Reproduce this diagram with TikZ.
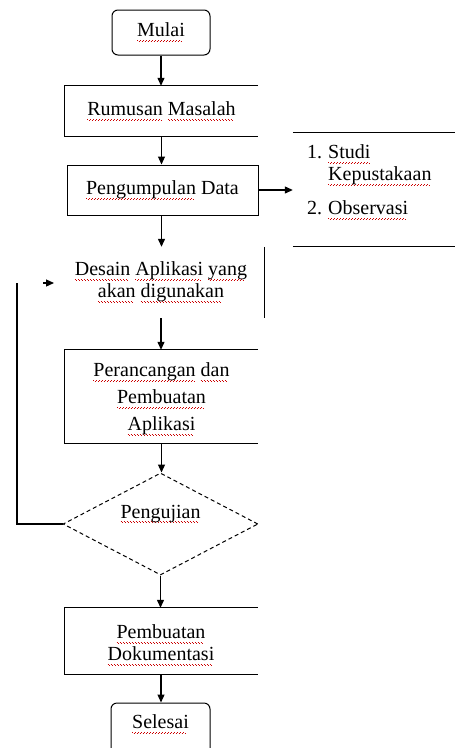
\documentclass[tikz,border=0pt]{standalone}
\usepackage{fontspec}
\setmainfont{Liberation Serif}
\usetikzlibrary{arrows.meta,shapes.geometric}
% red dotted wavy spell-check underline
\newsavebox\spellbox
\newcommand\spell[1]{\sbox\spellbox{#1}%
  \rlap{\color{red!80!black}\leaders\hbox to 3pt{\lower4pt\hbox{\vrule width 1pt height 0.8pt}%
    \hskip0.5pt\lower5.2pt\hbox{\vrule width 1pt height 0.8pt}\hss}\hskip\wd\spellbox}%
  \usebox\spellbox}
% shift a line of text vertically without changing its size
\newcommand\shiftline[2]{\raisebox{#1}[\height][\depth]{#2}}
\begin{document}
\begin{tikzpicture}[x=1pt,y=-1pt,
  txt/.style={font=\fontsize{20}{22}\selectfont, align=center, inner sep=0pt},
  plain/.style={txt, minimum width=193pt},
  rounded/.style={txt, draw, line width=1pt, rounded corners=6pt},
  decision/.style={txt, draw, diamond, dashed, dash pattern=on 4pt off 3pt, line width=1pt,
                   minimum width=195pt, minimum height=102pt, aspect=1.9},
  edge/.style={line width=1.2pt},
  arr/.style={edge, -{Triangle[length=8pt,width=7pt]}}]
\clip (0,0) rectangle (455,748);
\useasboundingbox (0,0) rectangle (455,748);

% process nodes
\node[rounded, minimum width=98pt, minimum height=45pt] (mulai) at (161,32.5) {\spell{Mulai}};
\node[plain, minimum height=50pt] (rum) at (161.5,111) {\spell{Rumusan} \spell{Masalah}};
\node[plain, draw, line width=1pt, minimum width=191pt, minimum height=50pt] (peng) at (162.5,190) {\spell{Pengumpulan} Data};
\node[plain, minimum width=206pt, minimum height=71pt] (desain) at (161,282.5)
  {\spell{Desain} \spell{Aplikasi} \spell{yang}\\\spell{akan} \spell{digunakan}};
\node[plain, font=\fontsize{20}{27}\selectfont, minimum height=93pt] (ranc) at (161.5,396.5)
  {\shiftline{-3pt}{\spell{Perancangan} \spell{dan}}\\\shiftline{-3pt}{\spell{Pembuatan}}\\\shiftline{-3pt}{\spell{Aplikasi}}};
\node[decision] (uji) at (160.5,524) {\shiftline{10pt}{\spell{Pengujian}}};
\node[plain, font=\fontsize{20}{22}\selectfont, minimum height=66pt] (dok) at (161,641)
  {\shiftline{-4pt}{\spell{Pembuatan}}\\\shiftline{-4pt}{\spell{Dokumentasi}}};
\node[rounded, minimum width=99pt, minimum height=52pt] (selesai) at (160.5,729) {\shiftline{5pt}{\spell{Selesai}}};

% data collection methods
\node[minimum width=162pt, minimum height=113pt, inner sep=0pt] (obs) at (374,189.5) {};
\node[txt, anchor=north west, align=left] (list) at (307,143)
  {\begin{tabular}{@{}l@{\hspace{6pt}}l@{}}1.&\spell{Studi}\\&\spell{Kepustakaan}\\[12pt]2.&\spell{Observasi}\end{tabular}};

% box outlines
\draw[edge] (rum.north east) -- (rum.north west) -- (rum.south west) -- (rum.south east);
\draw[edge] (desain.north east) -- (desain.south east);
\draw[edge] (ranc.north east) -- (ranc.north west) -- (ranc.south west) -- (ranc.south east);
\draw[edge] (dok.north east) -- (dok.north west) -- (dok.south west) -- (dok.south east);
\draw[edge] (obs.north west) -- (obs.north east);
\draw[edge] (obs.south west) -- (obs.south east);

% flow
\draw[arr] (mulai.south) -- (mulai.south |- rum.north);
\draw[arr] (rum.south) -- (rum.south |- peng.north);
\draw[arr] (peng.south -| rum.south) -- (rum.south |- desain.north);
\draw[arr] (peng.east) -- (obs.west |- peng.east);
\draw[arr] (desain.south) -- (desain.south |- ranc.north);
\draw[arr] (ranc.south) -- (ranc.south |- uji.north);
\draw[arr] (uji.south) -- (uji.south |- dok.north);
\draw[arr] (dok.south) -- (dok.south |- selesai.north);

% loop back after testing
\coordinate (loopcorner) at (17,283);
\coordinate (stub) at (43,283);
\coordinate (looptip) at (54,283);
\draw[edge] (uji.west) -| (loopcorner);
\draw[arr] (stub) -- (looptip);
\end{tikzpicture}
\end{document}
